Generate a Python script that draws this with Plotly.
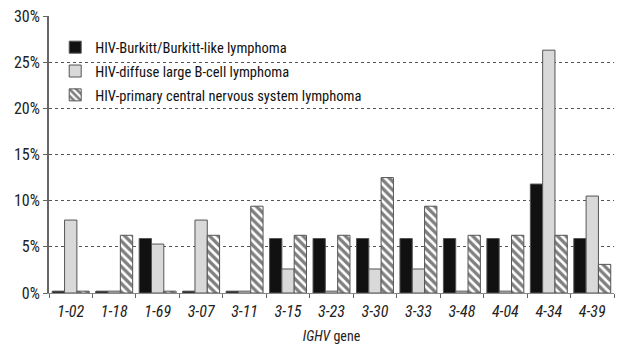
import plotly.graph_objects as go

genes = ["1-02", "1-18", "1-69", "3-07", "3-11", "3-15", "3-23", "3-30", "3-33", "3-48", "4-04", "4-34", "4-39"]
burkitt = [0.2, 0.2, 5.9, 0.2, 0.2, 5.9, 5.9, 5.9, 5.9, 5.9, 5.9, 11.8, 5.9]
dlbcl = [7.9, 0.2, 5.3, 7.9, 0.2, 2.6, 0.2, 2.6, 2.6, 0.2, 0.2, 26.3, 10.5]
pcnsl = [0.2, 6.25, 0.2, 6.25, 9.4, 6.25, 6.25, 12.5, 9.4, 6.25, 6.25, 6.25, 3.1]
y_ticks = [0, 5, 10, 15, 20, 25, 30]
y_labels = ["0%", "5%", "10%", "15%", "20%", "25%", "30%"]

FONT = "Roboto Condensed, DejaVu Sans Condensed, sans-serif"

fig = go.Figure()
fig.add_trace(go.Bar(x=genes, y=burkitt, name="HIV-Burkitt/Burkitt-like lymphoma", legendgroup="a",
                     marker=dict(color="#111111", line=dict(color="#555555", width=1))))
fig.add_trace(go.Bar(x=genes, y=dlbcl, name="HIV-diffuse large B-cell lymphoma", legendgroup="b",
                     marker=dict(color="#d9d9d9", line=dict(color="#555555", width=1))))
fig.add_trace(go.Bar(x=genes, y=pcnsl, name="HIV-primary central nervous system lymphoma", legendgroup="c",
                     marker=dict(color="white", line=dict(color="#555555", width=1),
                                 pattern=dict(shape="\\", fgcolor="#000000", bgcolor="white",
                                              size=6, solidity=0.55))))

fig.update_layout(
    width=617, height=351,
    margin=dict(l=49, r=3, t=16, b=58),
    paper_bgcolor="white", plot_bgcolor="white",
    barmode="group", bargap=0.15, bargroupgap=0.0,
    font=dict(family=FONT, size=15, color="#222222"),
    showlegend=True,
    legend=dict(x=0.011, y=0.945, xanchor="left", yanchor="top",
                bgcolor="rgba(0,0,0,0)", font=dict(size=14.5, family=FONT, color="#111111"),
                traceorder="grouped", tracegroupgap=2, itemwidth=30),
    xaxis=dict(
        tickson="boundaries", ticks="outside", ticklen=4, tickcolor="#666666",
        showline=True, linecolor="#888888", linewidth=1,
        tickfont=dict(family=FONT, size=16, style="italic"),
        ticklabelstandoff=4,
        title=dict(text="<i>IGHV</i> gene", font=dict(family=FONT, size=14), standoff=10),
    ),
    yaxis=dict(
        range=[0, 30], tickvals=y_ticks, ticktext=y_labels,
        ticks="outside", ticklen=4, tickcolor="#666666",
        showline=True, linecolor="#666666", linewidth=2,
        showgrid=True, gridcolor="#555555", griddash="dot", gridwidth=1,
        zeroline=False,
        tickfont=dict(family=FONT, size=16),
    ),
)

fig.write_html("out.html", config={"displayModeBar": False},
               post_script="document.body.style.margin='0';")
